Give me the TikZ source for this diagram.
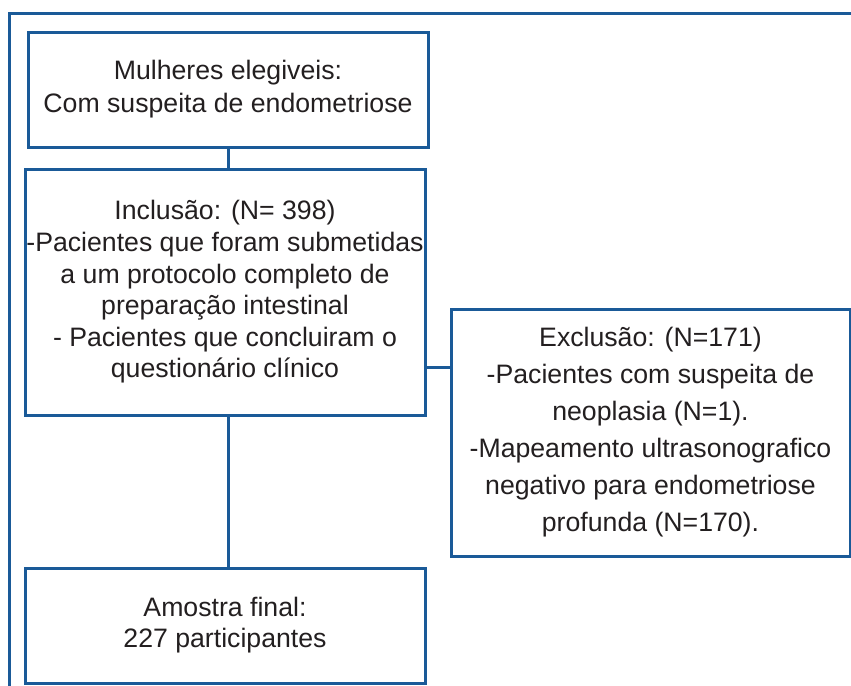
\documentclass[tikz,border=0pt]{standalone}
\usepackage{fontspec}
\setmainfont{Liberation Sans}
\usetikzlibrary{calc}
\definecolor{lineblue}{HTML}{1A5A98}
\definecolor{txt}{HTML}{231F20}
\begin{document}
\begin{tikzpicture}[x=0.75pt,y=-0.75pt,
  box/.style={draw=lineblue,line width=2.25pt,rectangle,align=center,text=txt,inner sep=0pt},
  conn/.style={draw=lineblue,line width=2.25pt}]
\useasboundingbox (0,0) rectangle (851,686);
\fill[white] (0,0) rectangle (851,686);
\draw[conn] (9,686) -- (9,13) -- (851,13);
\node[box,minimum width=300pt,minimum height=86.25pt,font=\fontsize{20}{24.75}\selectfont] (b1) at (228,89.5)
  {Mulheres elegiveis:\\Com suspeita de endometriose};
\node[box,minimum width=300pt,minimum height=184.5pt,font=\fontsize{20}{23.7}\selectfont] (b2) at (225,292)
  {Inclusão: (N= 398)\\-Pacientes que foram submetidas\\a um protocolo completo de\\preparação intestinal\\- Pacientes que concluiram o\\questionário clínico};
\node[box,minimum width=299.25pt,minimum height=185.25pt,font=\fontsize{20}{27.75}\selectfont] (b3) at (650.5,432.5)
  {Exclusão: (N=171)\\-Pacientes com suspeita de\\neoplasia (N=1).\\-Mapeamento ultrasonografico\\negativo para endometriose\\profunda (N=170).};
\node[box,minimum width=300pt,minimum height=86.25pt,font=\fontsize{20}{23.25}\selectfont] (b4) at (225,625.5)
  {Amostra final:\\227 participantes};
\draw[conn] (b1.south) -- (b1.south |- b2.north);
\draw[conn] (b1.south |- b2.south) -- (b1.south |- b4.north);
\coordinate (j) at ($(b2.east)+(0,75)$);
\draw[conn] (j) -- (j -| b3.west);
\end{tikzpicture}
\end{document}
